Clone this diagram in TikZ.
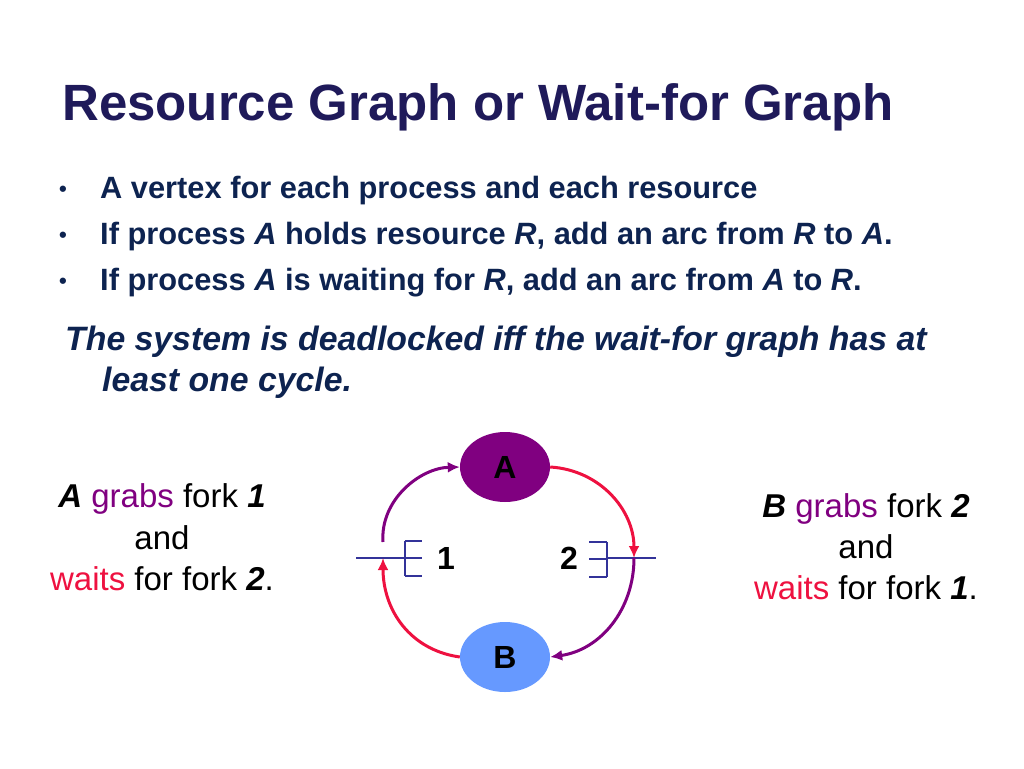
\documentclass[tikz,border=0pt]{standalone}
\usepackage{fontspec}
\setmainfont{Liberation Sans}
\usetikzlibrary{shapes.geometric,arrows.meta}
\begin{document}
\begin{tikzpicture}[x=1pt,y=-1pt,
  ttl/.style={anchor=base west,inner sep=0,font=\fontsize{51}{55}\selectfont\bfseries,text=navy},
  bul/.style={anchor=base west,inner sep=0,font=\fontsize{30.8}{34}\selectfont\bfseries,text=navy2},
  stm/.style={anchor=base west,inner sep=0,font=\fontsize{33.8}{38}\selectfont\bfseries\itshape,text=navy2},
  side/.style={anchor=base,inner sep=0,font=\fontsize{33}{36}\selectfont},
  proc/.style={ellipse,minimum width=90,minimum height=70,inner sep=0,font=\fontsize{32}{36}\selectfont\bfseries},
  arcp/.style={line width=3pt,color=purp,-{Latex[length=12pt,width=11pt]}},
  arcr/.style={line width=3pt,color=redc,-{Latex[length=12pt,width=11pt]}},
  fork/.style={line width=1.4pt,color=forkc}]
\definecolor{navy}{HTML}{1F1A5A}
\definecolor{navy2}{HTML}{0D2350}
\definecolor{purp}{HTML}{800080}
\definecolor{redc}{HTML}{EE1140}
\definecolor{bluec}{HTML}{6699FF}
\definecolor{forkc}{HTML}{333399}
\colorlet{grab}{purp}
\useasboundingbox (0,0) rectangle (1024,768);
\node[ttl] (t) at (62,120) {Resource Graph or Wait-for Graph};
\node[bul,font=\fontsize{22}{24}\selectfont\bfseries] (d1) at (59,196) {•};
\node[bul,font=\fontsize{22}{24}\selectfont\bfseries] (d2) at (59,242) {•};
\node[bul,font=\fontsize{22}{24}\selectfont\bfseries] (d3) at (59,288) {•};
\node[bul] (b1) at (100,198) {A vertex for each process and each resource};
\node[bul] (b2) at (100,244) {If process \textit{A} holds resource \textit{R}, add an arc from \textit{R} to \textit{A}.};
\node[bul] (b3) at (100,290) {If process \textit{A} is waiting for \textit{R}, add an arc from \textit{A} to \textit{R}.};
\node[stm] (s1) at (65,350) {The system is deadlocked iff the wait-for graph has at};
\node[stm] (s2) at (102,391) {least one cycle.};
\node[side] (l1) at (162,507) {\textbf{\textit{A}} \textcolor{grab}{grabs} fork \textbf{\textit{1}}};
\node[side] (l2) at (162,549) {and};
\node[side] (l3) at (162,590) {\textcolor{redc}{waits} for fork \textbf{\textit{2}}.};
\node[side] (r1) at (866,517) {\textbf{\textit{B}} \textcolor{grab}{grabs} fork \textbf{\textit{2}}};
\node[side] (r2) at (866,558) {and};
\node[side] (r3) at (866,599) {\textcolor{redc}{waits} for fork \textbf{\textit{1}}.};
\node[proc,fill=purp] (A) at (505,467) {A};
\node[proc,fill=bluec] (B) at (505,657) {B};
\node[side,font=\fontsize{32}{36}\selectfont\bfseries] (n1) at (446,569) {1};
\node[side,font=\fontsize{32}{36}\selectfont\bfseries] (n2) at (569,569) {2};
\coordinate (f1) at (383,558);
\coordinate (f2) at (634,558);
\coordinate (f1s) at (383,542);
% forks
\draw[fork] (356,558) -- (405,558);
\draw[fork] (405,541) -- (405,576);
\foreach \yy in {541,558,576} \draw[fork] (405,\yy) -- (422,\yy);
\draw[fork] (607,558) -- (656,558);
\draw[fork] (607,542) -- (607,577);
\foreach \yy in {542,559,577} \draw[fork] (607,\yy) -- (589,\yy);
% arcs
\draw[arcp] (f1s) .. controls (380,500) and (420,468) .. (A.west);
\draw[arcr] (A.east) .. controls (600,470) and (634,510) .. (f2);
\draw[arcp] (f2) .. controls (634,610) and (600,650) .. (B.east);
\draw[arcr] (B.west) .. controls (410,650) and (383,610) .. (f1);
\end{tikzpicture}
\end{document}
